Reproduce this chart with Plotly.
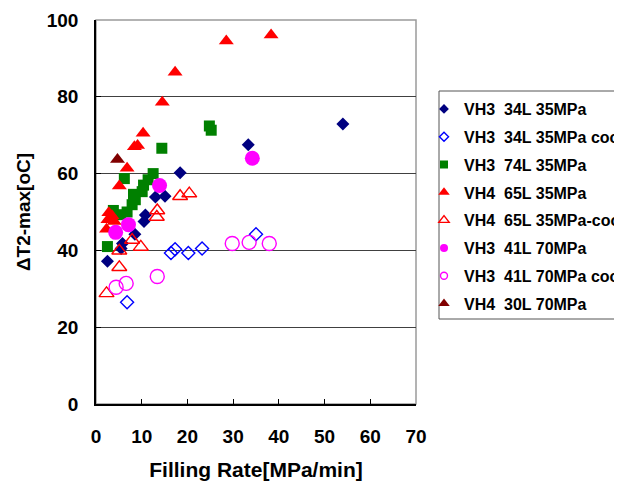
import plotly.graph_objects as go

# ---- data ----
vh3_34_x = [2.5, 5.5, 5.8, 8.5, 10.5, 10.8, 13.0, 15.1, 18.4, 33.3, 54.0]
vh3_34_y = [37.2, 40.5, 41.8, 44.2, 47.5, 49.2, 53.9, 54.1, 60.2, 67.5, 72.9]

vh3_34c_x = [6.8, 16.4, 17.3, 20.2, 23.2, 35.0]
vh3_34c_y = [26.5, 39.3, 40.3, 39.3, 40.5, 44.2]

vh3_74_x = [2.5, 3.8, 5.4, 6.2, 6.8, 7.9, 8.2, 8.6, 10.1, 10.4, 11.4, 12.5, 14.4, 24.8, 25.2]
vh3_74_y = [41.0, 50.4, 49.3, 58.7, 50.0, 51.9, 54.6, 53.2, 55.3, 57.0, 58.4, 60.0, 66.6, 72.4, 71.3]

vh4_65_x = [2.3, 2.6, 2.8, 3.5, 4.0, 5.1, 6.8, 8.4, 9.1, 10.3, 14.5, 17.3, 28.5, 38.3]
vh4_65_y = [45.5, 48.0, 49.8, 49.0, 47.5, 56.8, 61.4, 67.0, 67.3, 70.5, 78.6, 86.4, 94.5, 96.1]

vh4_65c_x = [2.3, 5.1, 5.1, 7.9, 9.8, 13.3, 13.4, 18.4, 20.4]
vh4_65c_y = [28.8, 35.6, 39.9, 42.7, 40.9, 48.7, 50.4, 54.1, 54.8]

vh3_41_x = [4.3, 7.1, 13.9, 34.2]
vh3_41_y = [44.7, 46.7, 56.9, 64.0]

vh3_41c_x = [4.4, 6.6, 13.4, 29.8, 33.5, 37.9]
vh3_41c_y = [30.4, 31.4, 33.2, 41.8, 42.1, 41.8]

vh4_30_x = [4.7]
vh4_30_y = [63.7]

# name, x, y, symbol, colour, plot size, legend size, line width
series = [
    ("VH3\u00a0 34L 35MPa", vh3_34_x, vh3_34_y, "diamond", "#000080", 10, 7.5, 0),
    ("VH3\u00a0 34L 35MPa cool", vh3_34c_x, vh3_34c_y, "diamond-open", "#0000FF", 10, 7, 1.4),
    ("VH3\u00a0 74L 35MPa", vh3_74_x, vh3_74_y, "square", "#008000", 11, 8, 0),
    ("VH4\u00a0 65L 35MPa", vh4_65_x, vh4_65_y, "triangle-up", "#FF0000", 13, 10, 0),
    ("VH4\u00a0 65L 35MPa-cool", vh4_65c_x, vh4_65c_y, "triangle-up-open", "#FF0000", 13, 9, 1.4),
    ("VH3\u00a0 41L 70MPa", vh3_41_x, vh3_41_y, "circle", "#FF00FF", 15, 8, 0),
    ("VH3\u00a0 41L 70MPa cool", vh3_41c_x, vh3_41c_y, "circle-open", "#FF00FF", 14, 7, 1.4),
    ("VH4\u00a0 30L 70MPa", vh4_30_x, vh4_30_y, "triangle-up", "#800000", 13, 10, 0),
]

FONT = "Arial, 'Liberation Sans', sans-serif"

fig = go.Figure()
for i, (name, xs, ys, sym, col, size, lsize, lw) in enumerate(series):
    fig.add_trace(go.Scatter(
        x=xs, y=ys, mode="markers", name=name, legendgroup=f"g{i}",
        showlegend=False,
        marker=dict(symbol=sym, color=col, size=size,
                    line=dict(color=col, width=lw)),
    ))
for i, (name, xs, ys, sym, col, size, lsize, lw) in enumerate(series):
    # legend-only entry with the small legend symbol
    fig.add_trace(go.Scatter(
        x=[None], y=[None], mode="markers", name=name, legendgroup=f"g{i}",
        marker=dict(symbol=sym, color=col, size=lsize,
                    line=dict(color=col, width=lw)),
    ))

# the page body has an 8px margin, so figure coords = screen coords - 8
OFF = 8
W, H = 622 - OFF, 481 - OFF
L = 96 - OFF
T = 20 - OFF
R = W - (416 - OFF)
B = H - (404 - OFF)
pw = W - L - R
ph = H - T - B


def px(sx):
    return (sx - OFF - L) / pw


def py(sy):
    return (H - B - (sy - OFF)) / ph


fig.update_layout(
    width=W, height=H,
    margin=dict(l=L, r=R, t=T, b=B, autoexpand=False),
    paper_bgcolor="white", plot_bgcolor="white",
    font=dict(family=FONT, color="black"),
    showlegend=True,
    legend=dict(
        x=px(424), xanchor="left",
        y=py(92), yanchor="top",
        bgcolor="rgba(0,0,0,0)", borderwidth=0,
        font=dict(family=FONT, size=16, color="black", weight="bold"),
        tracegroupgap=4, itemsizing="trace",
    ),
    shapes=[
        dict(type="rect", xref="paper", yref="paper", x0=0, x1=1, y0=0, y1=1,
             line=dict(color="#9a9a9a", width=1.5), layer="below"),
        dict(type="rect", xref="paper", yref="paper",
             x0=px(439), x1=px(700),
             y0=py(319), y1=py(91),
             line=dict(color="#555555", width=1), layer="below"),
    ],
)

fig.update_xaxes(
    range=[0, 70], dtick=10, tick0=0,
    showgrid=False, zeroline=False,
    showline=True, linecolor="black", linewidth=1.5,
    ticks="inside", ticklen=5, tickcolor="black",
    tickfont=dict(family=FONT, size=19, weight="bold"),
    ticklabelstandoff=14,
    title=dict(text="Filling Rate[MPa/min]", standoff=17,
               font=dict(family=FONT, size=21, weight="bold")),
)
fig.update_yaxes(
    range=[0, 100], dtick=20, tick0=0,
    showgrid=True, gridcolor="#404040", gridwidth=1,
    zeroline=False,
    showline=True, linecolor="black", linewidth=1.5,
    ticks="inside", ticklen=5, tickcolor="black",
    tickfont=dict(family=FONT, size=19, weight="bold"),
    ticklabelstandoff=12,
    title=dict(text="ΔT2-max[oC]", standoff=11,
               font=dict(family=FONT, size=19, weight="bold")),
)

fig.write_html("out.html")
